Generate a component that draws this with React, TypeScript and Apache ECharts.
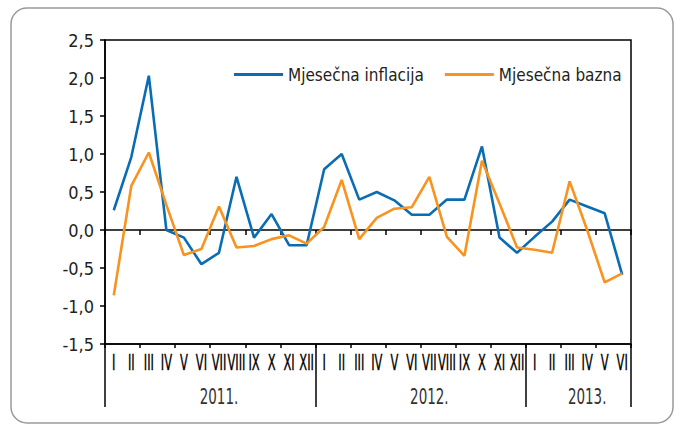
import React, { useEffect, useRef } from "react";
import * as echarts from "echarts";

const monthLabels = [
  "I", "II", "III", "IV", "V", "VI", "VII", "VIII", "IX", "X", "XI", "XII",
  "I", "II", "III", "IV", "V", "VI", "VII", "VIII", "IX", "X", "XI", "XII",
  "I", "II", "III", "IV", "V", "VI",
];
const yearLabels = ["2011.", "2012.", "2013."];
const yearCenters = [5.5, 17.5, 26.5];
const yearBounds = [0, 12, 24, 30];

const inflacija = [
  0.26, 0.96, 2.03, 0.0, -0.1, -0.45, -0.3, 0.7, -0.1, 0.21, -0.2, -0.2,
  0.8, 1.0, 0.4, 0.5, 0.39, 0.2, 0.2, 0.4, 0.4, 1.1, -0.1, -0.3,
  -0.09, 0.11, 0.4, 0.31, 0.22, -0.59,
];
const bazna = [
  -0.86, 0.58, 1.02, 0.33, -0.33, -0.25, 0.31, -0.23, -0.21, -0.12, -0.07, -0.18,
  0.04, 0.66, -0.12, 0.16, 0.28, 0.3, 0.7, -0.09, -0.34, 0.91, 0.35, -0.23,
  -0.26, -0.3, 0.64, 0.0, -0.69, -0.57,
];
const seriesNames = ["Mjesečna inflacija", "Mjesečna bazna"];

const FONT = '"DejaVu Sans Condensed", "DejaVu Sans", sans-serif';
const TEXT = "#231f20";
const BLUE = "#0a6db4";
const ORANGE = "#f7931e";

export default function App() {
  const ref = useRef<HTMLDivElement>(null);
  useEffect(() => {
    document.body.style.margin = "0";
    const chart = echarts.init(ref.current!, null, { renderer: "svg" });
    const frame = {
      type: "rect",
      shape: { x: 11, y: 8, width: 662, height: 415, r: 16 },
      style: { fill: "none", stroke: "#9a9a9a", lineWidth: 1.5 },
      silent: true,
    };
    chart.setOption({
      animation: false,
      textStyle: { fontFamily: FONT },
      graphic: [frame],
      grid: {
        left: 105,
        right: 45,
        top: 40,
        bottom: 81,
        show: true,
        borderColor: "#000",
        borderWidth: 1.5,
        backgroundColor: "transparent",
      },
      legend: {
        left: 229,
        top: 61,
        itemGap: 21,
        itemWidth: 49,
        itemHeight: 3,
        icon: "rect",
        textStyle: { fontFamily: FONT, fontSize: 17, color: TEXT },
        data: [
          { name: seriesNames[0], itemStyle: { color: BLUE } },
          { name: seriesNames[1], itemStyle: { color: ORANGE } },
        ],
      },
      xAxis: [
        {
          type: "category",
          data: monthLabels,
          boundaryGap: true,
          axisLine: { onZero: true, lineStyle: { color: "#000", width: 1.5 } },
          axisTick: { show: true, length: 5, lineStyle: { color: "#000", width: 1.5 } },
          axisLabel: { show: false },
          splitLine: { show: false },
        },
        {
          type: "category",
          data: monthLabels,
          position: "bottom",
          boundaryGap: true,
          axisLine: { onZero: false, lineStyle: { color: "#000", width: 1.5 } },
          axisTick: { show: true, length: 4, lineStyle: { color: "#000", width: 1.5 } },
          axisLabel: { show: false },
          splitLine: { show: false },
        },
        {
          type: "value",
          min: yearBounds[0],
          max: yearBounds[yearBounds.length - 1],
          position: "bottom",
          axisLine: { show: false, onZero: false },
          axisTick: {
            show: true,
            length: 63,
            customValues: yearBounds,
            lineStyle: { color: "#000", width: 1.5 },
          },
          axisLabel: { show: false },
          splitLine: { show: false },
        },
      ],
      yAxis: {
        type: "value",
        min: -1.5,
        max: 2.5,
        interval: 0.5,
        axisLine: { show: true, onZero: false, lineStyle: { color: "#000", width: 1.5 } },
        axisTick: { show: true, length: 5, lineStyle: { color: "#000", width: 1.5 } },
        axisLabel: {
          margin: 11,
          fontFamily: FONT,
          fontSize: 18,
          color: TEXT,
          formatter: (v: number) => v.toFixed(1).replace(".", ","),
        },
        splitLine: { show: false },
      },
      series: [
        {
          name: seriesNames[0],
          type: "line",
          xAxisIndex: 0,
          data: inflacija,
          symbol: "none",
          lineStyle: { color: BLUE, width: 2.6 },
          itemStyle: { color: BLUE },
        },
        {
          name: seriesNames[1],
          type: "line",
          xAxisIndex: 0,
          data: bazna,
          symbol: "none",
          lineStyle: { color: ORANGE, width: 2.6 },
          itemStyle: { color: ORANGE },
        },
      ],
    });

    // Condensed axis texts, positioned through the chart's own scales.
    const bottomY = chart.convertToPixel({ yAxisIndex: 0 }, -1.5) as number;
    const texts: any[] = [];
    monthLabels.forEach((m, i) => {
      const x = chart.convertToPixel({ xAxisIndex: 1 }, i) as number;
      texts.push({
        type: "text",
        x,
        y: bottomY + 7,
        scaleX: 0.58,
        silent: true,
        style: {
          text: m,
          fontFamily: FONT,
          fontSize: 22,
          fill: "#000",
          textAlign: "center",
          textVerticalAlign: "top",
          align: "center",
          verticalAlign: "top",
          stroke: "#000",
          lineWidth: 0.4,
        },
      });
    });
    yearLabels.forEach((yl, i) => {
      const x = chart.convertToPixel({ xAxisIndex: 0 }, yearCenters[i]) as number;
      texts.push({
        type: "text",
        x,
        y: bottomY + 41,
        scaleX: 0.68,
        silent: true,
        style: {
          text: yl,
          fontFamily: FONT,
          fontSize: 22,
          fill: "#333",
          textAlign: "center",
          textVerticalAlign: "top",
          align: "center",
          verticalAlign: "top",
        },
      });
    });
    chart.setOption({ graphic: [frame, ...texts] });
    return () => chart.dispose();
  }, []);
  return <div ref={ref} style={{ width: 676, height: 425 }} />;
}
